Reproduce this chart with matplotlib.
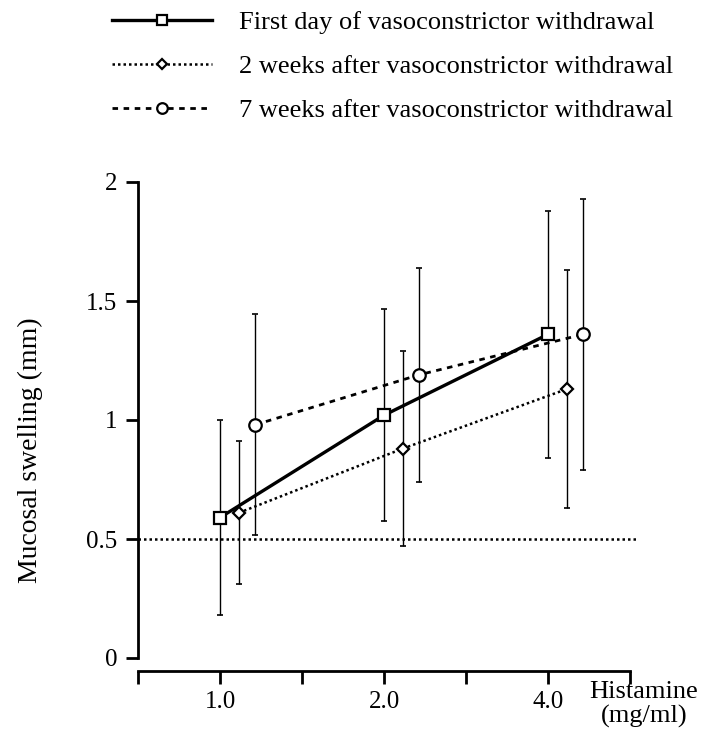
#!/usr/bin/env python3
import matplotlib
matplotlib.use("Agg")
import matplotlib.pyplot as plt

plt.rcParams["font.family"] = ["Liberation Serif", "DejaVu Serif"]

# histamine doses (mg/ml), drawn at evenly spaced slots
doses = ["1.0", "2.0", "4.0"]
dose_slots = [1, 3, 5]

first_day = [0.59, 1.02, 1.36]
first_day_err = [0.41, 0.445, 0.52]
week2 = [0.61, 0.88, 1.13]
week2_err = [0.30, 0.41, 0.50]
week7 = [0.98, 1.19, 1.36]
week7_err = [0.465, 0.45, 0.57]

labels = ["First day of vasoconstrictor withdrawal",
          "2 weeks after vasoconstrictor withdrawal",
          "7 weeks after vasoconstrictor withdrawal"]
threshold = 0.5

W, H = 704, 740
fig = plt.figure(figsize=(W / 100, H / 100), dpi=100)
ax = fig.add_axes([138 / W, 82 / H, 6.5 * 82 / W, 2.1 * 238 / H])

series = [
    (first_day, first_day_err, 0.0, dict(ls="-", lw=2.4, marker="s", ms=9)),
    (week2, week2_err, 0.23, dict(ls=(0, (1, 1.2)), lw=1.8, marker="D", ms=6)),
    (week7, week7_err, 0.43, dict(ls=(0, (2, 2)), lw=2.0, marker="o", ms=9)),
]

handles = []
for (vals, errs, off, st), lab in zip(series, labels):
    xs = [s + off for s in dose_slots]
    ax.errorbar(xs, vals, yerr=errs, fmt="none", ecolor="black",
                elinewidth=1.0, capsize=2.5, capthick=1.2)
    ln, = ax.plot(xs, vals, color="black", mfc="white", mec="black",
                  mew=1.6, label=lab, **st)
    handles.append(ln)

ax.plot([0, 6.07], [threshold, threshold], color="black", lw=1.8,
        ls=(0, (1, 1.2)))

ax.set_xlim(0, 6.5)
ax.set_ylim(0, 2.1)
ax.spines["top"].set_visible(False)
ax.spines["right"].set_visible(False)
ax.spines["left"].set_bounds(0, 2)
ax.spines["bottom"].set_bounds(0, 6)
ax.spines["bottom"].set_position(("outward", 9))
ax.spines["left"].set_linewidth(2)
ax.spines["bottom"].set_linewidth(2)

ax.set_yticks([0, 0.5, 1, 1.5, 2])
ax.set_yticklabels(["0", "0.5", "1", "1.5", "2"])
ax.set_xticks(range(7))
ax.set_xticklabels([""] + [doses[0], "", doses[1], "", doses[2], ""])
ax.tick_params(axis="both", direction="out", length=9, width=2,
               labelsize=18, colors="black")
ax.tick_params(axis="x", pad=6)
ax.tick_params(axis="y", pad=6)

fig.text(30 / W, 1 - 450 / H, "Mucosal swelling (mm)", fontsize=20,
         rotation=90, ha="center", va="center")
fig.text(644 / W, 1 - 692 / H, "Histamine", fontsize=19, ha="center",
         va="center")
fig.text(644 / W, 1 - 716 / H, "(mg/ml)", fontsize=19, ha="center",
         va="center")

fig.legend(handles=handles, loc="upper left",
           bbox_to_anchor=(112 / W, 1 - 11 / H), frameon=False,
           fontsize=19, handlelength=3.8, handletextpad=1.0,
           labelspacing=0.77, borderpad=0, borderaxespad=0,
           markerscale=0.85)

fig.savefig("out.png", dpi=100)
plt.close(fig)
print("Saved: out.png")
